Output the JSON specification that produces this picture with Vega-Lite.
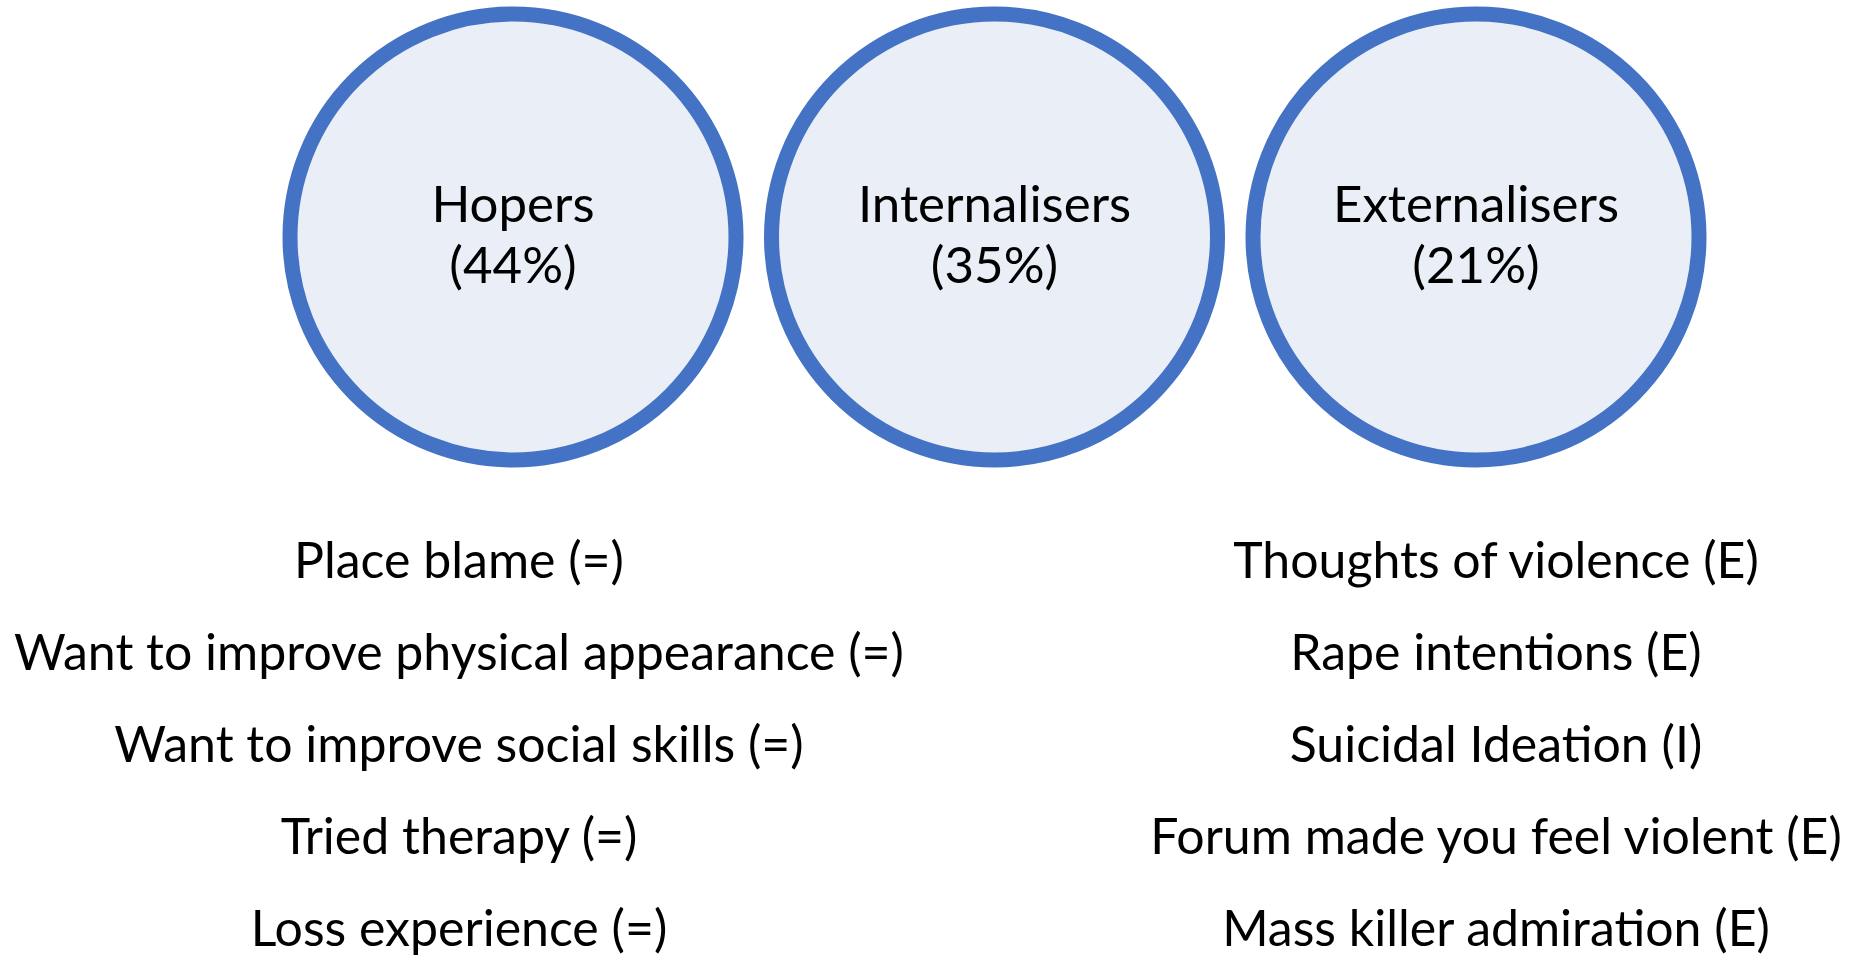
{
  "$schema": "https://vega.github.io/schema/vega-lite/v6.json",
  "padding": 0,
  "spacing": 0,
  "background": "white",
  "config": {"view": {"stroke": null}, "concat": {"spacing": 0}},
  "datasets": {
    "groups": [
      {"group": "Hopers", "share": 44, "share_label": "(44%)"},
      {"group": "Internalisers", "share": 35, "share_label": "(35%)"},
      {"group": "Externalisers", "share": 21, "share_label": "(21%)"}
    ],
    "features": [
      {"group": "Hopers", "rank": 1, "label": "Place blame (=)"},
      {"group": "Hopers", "rank": 2, "label": "Want to improve physical appearance (=)"},
      {"group": "Hopers", "rank": 3, "label": "Want to improve social skills (=)"},
      {"group": "Hopers", "rank": 4, "label": "Tried therapy (=)"},
      {"group": "Hopers", "rank": 5, "label": "Loss experience (=)"},
      {"group": "Externalisers", "rank": 1, "label": "Thoughts of violence (E)"},
      {"group": "Externalisers", "rank": 2, "label": "Rape intentions (E)"},
      {"group": "Externalisers", "rank": 3, "label": "Suicidal Ideation (I)"},
      {"group": "Externalisers", "rank": 4, "label": "Forum made you feel violent (E)"},
      {"group": "Externalisers", "rank": 5, "label": "Mass killer admiration (E)"}
    ]
  },
  "vconcat": [
    {
      "width": 1850,
      "height": 474,
      "data": {"name": "groups"},
      "encoding": {
        "x": {
          "field": "group",
          "type": "nominal",
          "scale": {"type": "point", "domain": ["Hopers", "Internalisers", "Externalisers"], "range": [513, 1476], "padding": 0},
          "axis": null
        }
      },
      "layer": [
        {
          "mark": {"type": "point", "shape": "circle", "filled": true, "clip": true, "size": 198916, "fill": "#E9EEF7", "stroke": "#4472C4", "strokeWidth": 15, "opacity": 1, "fillOpacity": 1, "strokeOpacity": 1}
        },
        {
          "mark": {"type": "text", "font": "Lato", "fontSize": 51, "color": "black", "baseline": "alphabetic", "align": "center", "dy": -15},
          "encoding": {"text": {"field": "group"}}
        },
        {
          "mark": {"type": "text", "font": "Lato", "fontSize": 51, "color": "black", "baseline": "alphabetic", "align": "center", "dy": 46},
          "encoding": {"text": {"field": "share_label"}}
        }
      ]
    },
    {
      "width": 1850,
      "height": 484,
      "data": {"name": "features"},
      "mark": {"type": "text", "font": "Lato", "fontSize": 50, "color": "black", "baseline": "alphabetic", "align": "center"},
      "encoding": {
        "x": {
          "field": "group",
          "type": "nominal",
          "scale": {"type": "point", "domain": ["Hopers", "Externalisers"], "range": [459, 1496], "padding": 0},
          "axis": null
        },
        "y": {
          "field": "rank",
          "type": "ordinal",
          "scale": {"type": "point", "domain": [1, 2, 3, 4, 5], "range": [104, 472], "padding": 0},
          "axis": null
        },
        "text": {"field": "label"}
      }
    }
  ]
}
